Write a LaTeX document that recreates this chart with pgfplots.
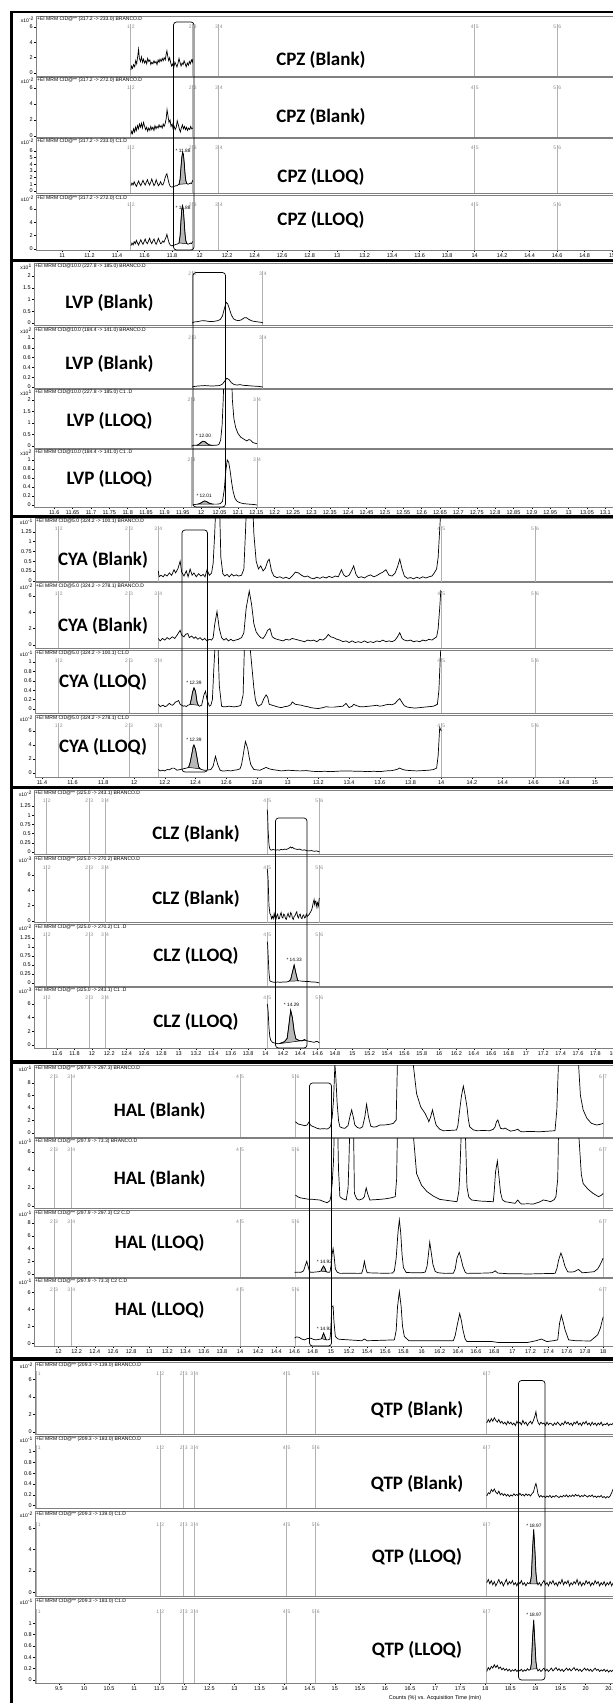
\documentclass[border=0pt]{standalone}
\usepackage{fontspec}
\setmainfont{Liberation Sans}
\newfontfamily\carlito{Carlito}
\usepackage{pgfplots}
\pgfplotsset{compat=1.18}

\pgfplotsset{
  common/.style={scale only axis, anchor=north west, clip mode=individual,
    axis line style={draw=black!50, line width=0.8pt},
    tick align=outside, major tick length=2pt, tick style={black, line width=0.4pt},
    ytick pos=left, xtick pos=bottom, xtick=\empty, scaled ticks=false,
    tick label style={font=\fontsize{5.5}{5.5}\selectfont, inner sep=1pt},
    xticklabel style={anchor=north, text height=4pt, text depth=0.5pt},
    /pgf/number format/assume math mode=true,
    /pgf/number format/fixed, /pgf/number format/precision=2},
  cpz/.style 2 args={common, at={(36pt,-#1pt)}, height=#2pt, width=584pt, xmin=10.81, xmax=15.057},
  lvp/.style 2 args={common, at={(34pt,-#1pt)}, height=#2pt, width=586pt, xmin=11.545, xmax=13.140},
  cya/.style 2 args={common, at={(35pt,-#1pt)}, height=#2pt, width=585pt, xmin=11.355, xmax=15.164},
  clz/.style 2 args={common, at={(34pt,-#1pt)}, height=#2pt, width=586pt, xmin=11.333, xmax=18.084},
  hal/.style 2 args={common, at={(34pt,-#1pt)}, height=#2pt, width=586pt, xmin=11.73, xmax=18.186},
  qtp/.style 2 args={common, at={(35pt,-#1pt)}, height=#2pt, width=585pt, xmin=9.023, xmax=20.686},
  tr/.style={black, line width=0.7pt, mark=none},
  fl/.style={fill=black!28, draw=black, line width=0.5pt, mark=none},
}
\tikzset{
  segl/.style={draw=black!30, line width=0.8pt},
  seglab/.style={font=\fontsize{5}{5}\selectfont, text=black!45, inner sep=0.7pt},
  hdr/.style={anchor=north west, font=\fontsize{5}{5.2}\selectfont, inner sep=1pt},
  scl/.style={anchor=north east, font=\fontsize{5}{5.2}\selectfont, inner sep=1pt, xshift=-1pt},
  pk/.style={font=\fontsize{4.8}{4.8}\selectfont, inner sep=0.5pt},
  big/.style={font=\carlito\bfseries\fontsize{19}{19}\selectfont},
}
\newcommand{\seg}[3]{\draw[segl] ({axis cs:#1,0}|-{rel axis cs:0,0}) -- ({axis cs:#1,0}|-{rel axis cs:0,0.87}) node[seglab,anchor=north east]{#2} node[seglab,anchor=north west]{#3};}
\newcommand{\phead}[2]{\node[hdr] at (rel axis cs:0,1) {#1}; \node[scl] at (rel axis cs:0,1) {x10\textsuperscript{#2}};}
\newcommand{\segsCPZ}{\seg{11.50}{1}{2}\seg{11.95}{2}{3}\seg{12.14}{3}{4}\seg{14.0}{4}{5}\seg{14.6}{5}{6}}
\newcommand{\segsLVPa}{\seg{11.976}{2}{3}\seg{12.168}{3}{4}}
\newcommand{\segsLVPb}{\seg{11.974}{2}{3}\seg{12.152}{3}{4}}
\newcommand{\segsCYA}{\seg{11.51}{1}{2}\seg{11.967}{2}{3}\seg{12.158}{3}{4}\seg{14.0}{4}{5}\seg{14.61}{5}{6}}
\newcommand{\segsCLZ}{\seg{11.48}{1}{2}\seg{11.97}{2}{3}\seg{12.15}{3}{4}\seg{14.02}{4}{5}\seg{14.62}{5}{6}}
\newcommand{\segsHAL}{\seg{11.95}{2}{3}\seg{12.14}{3}{4}\seg{14.0}{4}{5}\seg{14.61}{5}{6}\seg{18.0}{6}{7}}
\newcommand{\segsQTP}{\seg{9.06}{}{1}\seg{11.52}{1}{2}\seg{11.987}{2}{3}\seg{12.2}{3}{4}\seg{14.04}{4}{5}\seg{14.62}{5}{6}\seg{18.03}{6}{7}}

\begin{document}
\begin{tikzpicture}[x=1pt,y=1pt]
\useasboundingbox (0,0) rectangle (613,-1703);
\clip (0,0) rectangle (613,-1703);

% ---------------- CPZ ----------------
\begin{axis}[cpz={16}{60}, ymin=-0.39, ymax=7.43, ytick={0,2,4,6}]
\segsCPZ
\addplot[tr] coordinates {(11.500,0.4)(11.505,0.9)(11.512,0.6)(11.520,1.1)(11.528,0.8)(11.535,1.6)(11.542,1.2)(11.550,2.2)(11.556,3.1)(11.562,1.9)(11.570,1.5)(11.577,2.1)(11.585,1.4)(11.592,1.8)(11.600,1.3)(11.608,1.6)(11.615,1.2)(11.622,1.9)(11.630,1.5)(11.638,1.7)(11.645,1.1)(11.652,1.4)(11.660,1.2)(11.668,1.6)(11.675,1.3)(11.683,1.5)(11.690,1.1)(11.698,1.7)(11.705,1.4)(11.712,1.8)(11.720,1.5)(11.728,1.9)(11.735,1.6)(11.742,2.0)(11.750,1.7)(11.756,2.4)(11.762,2.9)(11.768,2.2)(11.775,1.6)(11.782,2.0)(11.790,1.3)(11.797,0.9)(11.805,1.2)(11.812,0.7)(11.820,1.4)(11.828,1.1)(11.835,0.8)(11.842,1.2)(11.850,1.9)(11.857,1.4)(11.865,0.9)(11.872,1.3)(11.880,1.1)(11.887,1.6)(11.895,1.2)(11.902,0.8)(11.910,1.3)(11.918,1.0)(11.925,1.5)(11.932,1.2)(11.940,1.7)(11.947,1.4)(11.950,1.8)};
\phead{+EI MRM CID@** (317.2 -> 233.0) BRANCO.D}{-2}
\end{axis}
\begin{axis}[cpz={77}{60}, ymin=-0.125, ymax=7.375, ytick={0,2,4,6}]
\segsCPZ
\addplot[tr] coordinates {(11.500,0.2)(11.506,0.6)(11.512,0.3)(11.520,0.9)(11.527,0.5)(11.534,1.1)(11.540,0.7)(11.548,1.3)(11.555,0.9)(11.562,1.5)(11.570,1.1)(11.577,1.6)(11.584,1.0)(11.592,1.7)(11.600,1.2)(11.607,0.8)(11.615,1.1)(11.622,0.6)(11.630,1.0)(11.638,0.7)(11.645,1.2)(11.652,0.8)(11.660,1.1)(11.668,0.7)(11.675,1.3)(11.683,0.9)(11.690,1.2)(11.698,1.0)(11.705,1.4)(11.712,1.1)(11.720,1.3)(11.728,1.0)(11.735,1.5)(11.742,1.2)(11.750,1.6)(11.757,2.2)(11.763,3.3)(11.770,2.5)(11.777,1.7)(11.785,2.0)(11.792,1.2)(11.800,1.5)(11.807,0.9)(11.815,1.2)(11.822,0.8)(11.830,1.1)(11.837,1.9)(11.845,1.4)(11.852,0.9)(11.860,0.5)(11.867,1.0)(11.875,1.4)(11.882,0.9)(11.890,1.2)(11.897,0.8)(11.905,1.1)(11.912,0.7)(11.920,1.0)(11.928,0.8)(11.935,1.2)(11.942,0.9)(11.950,1.0)};
\phead{+EI MRM CID@** (317.2 -> 272.0) BRANCO.D}{-2}
\end{axis}
\begin{axis}[cpz={138}{55}, ymin=-0.3, ymax=7.95, ytick={0,1,2,3,4,5,6}]
\segsCPZ
\addplot[fl] coordinates {(11.850,1.0)(11.858,1.8)(11.864,3.5)(11.870,5.0)(11.876,5.8)(11.882,5.5)(11.888,4.2)(11.894,2.5)(11.900,1.5)(11.908,1.1)} -- cycle;
\addplot[tr] coordinates {(11.500,0.8)(11.508,1.2)(11.516,0.9)(11.524,1.4)(11.532,1.0)(11.540,0.7)(11.548,1.1)(11.556,1.5)(11.564,1.1)(11.572,0.8)(11.580,1.2)(11.588,1.6)(11.596,1.2)(11.604,0.9)(11.612,1.3)(11.620,1.7)(11.628,1.2)(11.636,0.9)(11.644,1.3)(11.652,1.8)(11.660,1.3)(11.668,0.8)(11.676,1.1)(11.684,1.7)(11.692,1.2)(11.700,0.8)(11.708,1.0)(11.716,1.4)(11.724,1.0)(11.732,0.9)(11.740,1.3)(11.748,1.9)(11.756,2.4)(11.762,2.6)(11.770,1.8)(11.778,1.1)(11.786,0.7)(11.794,0.6)(11.802,0.6)(11.810,0.7)(11.818,0.7)(11.826,0.8)(11.834,0.8)(11.842,0.9)(11.850,1.0)(11.858,1.8)(11.864,3.5)(11.870,5.0)(11.876,5.8)(11.882,5.5)(11.888,4.2)(11.894,2.5)(11.900,1.5)(11.908,1.1)(11.916,1.0)(11.924,1.1)(11.932,1.2)(11.940,1.1)(11.946,1.4)(11.950,1.6)};
\node[pk] at (axis cs:11.88,6.0) {* 11.88};
\phead{+EI MRM CID@** (317.2 -> 233.0) C1.D}{-2}
\end{axis}
\begin{axis}[cpz={195}{55}, ymin=-0.15, ymax=8.1, ytick={0,2,4,6}, xtick={11,11.2,...,15.01}]
\segsCPZ
\addplot[fl] coordinates {(11.850,0.9)(11.858,2.0)(11.864,4.2)(11.870,5.9)(11.876,6.5)(11.882,5.8)(11.888,4.0)(11.894,2.2)(11.900,1.2)(11.908,0.8)} -- cycle;
\addplot[tr] coordinates {(11.500,0.5)(11.508,0.9)(11.516,0.6)(11.524,1.1)(11.532,0.8)(11.540,1.3)(11.548,0.9)(11.556,0.6)(11.564,1.0)(11.572,1.4)(11.580,1.0)(11.588,0.7)(11.596,1.1)(11.604,1.5)(11.612,1.0)(11.620,0.8)(11.628,1.2)(11.636,1.6)(11.644,1.1)(11.652,0.8)(11.660,1.2)(11.668,1.5)(11.676,1.0)(11.684,0.7)(11.692,1.1)(11.700,1.6)(11.708,1.2)(11.716,0.8)(11.724,0.9)(11.732,1.2)(11.740,1.0)(11.748,1.4)(11.756,1.8)(11.762,2.2)(11.770,1.5)(11.778,0.9)(11.786,0.6)(11.794,0.5)(11.802,0.5)(11.810,0.6)(11.818,0.6)(11.826,0.7)(11.834,0.7)(11.842,0.8)(11.850,0.9)(11.858,2.0)(11.864,4.2)(11.870,5.9)(11.876,6.5)(11.882,5.8)(11.888,4.0)(11.894,2.2)(11.900,1.2)(11.908,0.8)(11.916,0.7)(11.924,0.8)(11.932,0.9)(11.940,0.8)(11.946,1.0)(11.950,1.1)};
\node[pk] at (axis cs:11.88,6.2) {* 11.88};
\phead{+EI MRM CID@** (317.2 -> 272.0) C1.D}{-2}
\end{axis}

% ---------------- LVP ----------------
\begin{axis}[lvp={263}{62}, ymin=-0.085, ymax=2.553, ytick={0,0.5,1,1.5,2}]
\segsLVPa
\addplot[tr] coordinates {(11.976,0.0)(11.980,0.04)(11.990,0.06)(12.000,0.09)(12.008,0.1)(12.016,0.08)(12.025,0.06)(12.035,0.07)(12.045,0.1)(12.052,0.15)(12.058,0.3)(12.063,0.6)(12.068,0.88)(12.072,0.82)(12.077,0.6)(12.082,0.35)(12.088,0.18)(12.095,0.12)(12.102,0.1)(12.110,0.14)(12.117,0.22)(12.123,0.23)(12.130,0.15)(12.138,0.09)(12.148,0.06)(12.158,0.04)(12.166,0.02)(12.168,0.0)};
\phead{+EI MRM CID@10.0 (227.8 -> 185.0) BRANCO.D}{1}
\end{axis}
\begin{axis}[lvp={327}{61.5}, ymin=-0.03, ymax=1.224, ytick={0,0.2,0.4,0.6,0.8,1}]
\segsLVPa
\addplot[tr] coordinates {(11.976,0.0)(11.980,0.01)(11.990,0.02)(12.000,0.025)(12.010,0.03)(12.020,0.025)(12.030,0.02)(12.040,0.025)(12.050,0.03)(12.058,0.06)(12.064,0.12)(12.070,0.18)(12.076,0.15)(12.082,0.09)(12.090,0.05)(12.098,0.04)(12.106,0.05)(12.114,0.035)(12.125,0.03)(12.140,0.02)(12.155,0.015)(12.168,0.0)};
\phead{+EI MRM CID@10.0 (184.4 -> 141.0) BRANCO.D}{2}
\end{axis}
\begin{axis}[lvp={389}{59}, ymin=-0.087, ymax=2.478, ytick={0,0.5,1,1.5,2}]
\segsLVPb
\addplot[fl] coordinates {(11.988,0.03)(11.994,0.08)(12.000,0.16)(12.005,0.21)(12.010,0.19)(12.016,0.11)(12.022,0.05)(12.028,0.03)} -- cycle;
\addplot[tr] coordinates {(11.974,0.0)(11.980,0.03)(11.988,0.03)(11.994,0.08)(12.000,0.16)(12.005,0.21)(12.010,0.19)(12.016,0.11)(12.022,0.05)(12.030,0.03)(12.040,0.03)(12.048,0.06)(12.053,0.25)(12.057,0.9)(12.060,2.0)(12.062,3.0)(12.083,3.0)(12.085,2.0)(12.089,1.2)(12.094,0.8)(12.100,0.55)(12.108,0.38)(12.116,0.3)(12.124,0.22)(12.130,0.28)(12.135,0.25)(12.141,0.15)(12.147,0.12)(12.152,0.1)};
\node[pk] at (axis cs:12.006,0.45) {* 12.00};
\phead{+EI MRM CID@10.0 (227.8 -> 185.0) C1 .D}{1}
\end{axis}
\begin{axis}[lvp={449}{58}, ymin=-0.044, ymax=1.244, ytick={0,0.2,0.4,0.6,0.8,1}, xtick={11.6,11.65,...,13.12}]
\segsLVPb
\addplot[fl] coordinates {(11.992,0.02)(11.998,0.04)(12.004,0.07)(12.009,0.09)(12.014,0.08)(12.020,0.05)(12.026,0.03)(12.030,0.02)} -- cycle;
\addplot[tr] coordinates {(11.976,0.0)(11.982,0.01)(11.990,0.02)(11.998,0.04)(12.004,0.07)(12.009,0.09)(12.014,0.08)(12.020,0.05)(12.026,0.03)(12.034,0.02)(12.044,0.02)(12.052,0.03)(12.058,0.08)(12.063,0.35)(12.067,0.75)(12.071,1.0)(12.075,0.95)(12.079,0.75)(12.083,0.5)(12.087,0.3)(12.092,0.15)(12.098,0.08)(12.106,0.05)(12.116,0.03)(12.130,0.02)(12.145,0.01)(12.152,0.0)};
\node[pk] at (axis cs:12.008,0.2) {* 12.01};
\phead{+EI MRM CID@10.0 (184.4 -> 141.0) C1 .D}{2}
\end{axis}

% ---------------- CYA ----------------
\begin{axis}[cya={518}{63.5}, ymin=-0.02, ymax=1.6, ytick={0,0.25,0.5,0.75,1,1.25}]
\segsCYA
\addplot[tr] coordinates {(12.158,0.25)(12.163,0.1)(12.175,0.14)(12.19,0.1)(12.20,0.16)(12.215,0.12)(12.23,0.2)(12.245,0.14)(12.26,0.28)(12.27,0.2)(12.285,0.3)(12.30,0.5)(12.31,0.22)(12.325,0.12)(12.34,0.25)(12.352,0.1)(12.365,0.3)(12.378,0.14)(12.39,0.2)(12.405,0.1)(12.42,0.18)(12.435,0.12)(12.45,0.16)(12.462,0.1)(12.475,0.28)(12.49,0.14)(12.505,0.2)(12.515,0.45)(12.525,1.2)(12.535,2.2)(12.555,2.2)(12.565,0.6)(12.578,0.18)(12.59,0.12)(12.605,0.16)(12.62,0.1)(12.635,0.17)(12.65,0.12)(12.665,0.15)(12.68,0.12)(12.70,0.14)(12.715,0.3)(12.725,1.2)(12.735,2.2)(12.77,2.2)(12.78,1.2)(12.795,0.5)(12.81,0.3)(12.825,0.38)(12.84,0.25)(12.855,0.32)(12.87,0.5)(12.88,0.55)(12.895,0.25)(12.91,0.12)(12.93,0.08)(12.95,0.1)(12.97,0.06)(12.99,0.09)(13.01,0.05)(13.03,0.12)(13.05,0.22)(13.07,0.2)(13.09,0.14)(13.11,0.1)(13.13,0.12)(13.15,0.07)(13.17,0.05)(13.19,0.09)(13.21,0.06)(13.23,0.1)(13.25,0.07)(13.27,0.11)(13.29,0.08)(13.31,0.12)(13.33,0.1)(13.35,0.28)(13.365,0.15)(13.38,0.1)(13.40,0.14)(13.415,0.25)(13.43,0.38)(13.445,0.16)(13.46,0.08)(13.48,0.1)(13.50,0.07)(13.52,0.12)(13.54,0.15)(13.56,0.1)(13.58,0.13)(13.60,0.18)(13.62,0.22)(13.64,0.28)(13.66,0.14)(13.68,0.12)(13.70,0.2)(13.715,0.35)(13.73,0.55)(13.745,0.3)(13.76,0.12)(13.78,0.06)(13.80,0.08)(13.82,0.05)(13.84,0.09)(13.86,0.06)(13.88,0.1)(13.90,0.07)(13.92,0.1)(13.94,0.12)(13.955,0.2)(13.97,0.3)(13.98,0.6)(13.99,1.3)(14.0,2.0)};
\phead{+EI MRM CID@5.0 (324.2 -> 100.1) BRANCO.D}{-1}
\end{axis}
\begin{axis}[cya={582.5}{65.5}, ymin=-0.37, ymax=7.65, ytick={0,2,4,6}]
\segsCYA
\addplot[tr] coordinates {(12.158,0.8)(12.17,0.5)(12.185,0.8)(12.2,0.6)(12.215,0.9)(12.23,0.7)(12.25,1.0)(12.265,0.8)(12.28,1.2)(12.29,1.5)(12.30,1.8)(12.31,1.2)(12.325,1.0)(12.335,1.3)(12.35,1.4)(12.36,0.9)(12.375,1.1)(12.39,0.8)(12.40,1.0)(12.415,0.7)(12.43,0.9)(12.445,0.6)(12.46,0.8)(12.475,0.5)(12.49,0.7)(12.505,0.6)(12.515,0.9)(12.525,2.5)(12.54,4.1)(12.555,2.0)(12.57,0.9)(12.585,0.6)(12.6,0.8)(12.615,0.5)(12.63,0.7)(12.645,0.5)(12.66,0.6)(12.68,0.7)(12.70,0.9)(12.715,1.5)(12.73,4.5)(12.75,6.6)(12.765,5.0)(12.78,2.6)(12.795,1.6)(12.81,1.2)(12.825,0.9)(12.84,0.8)(12.855,1.2)(12.87,1.8)(12.885,2.0)(12.90,1.0)(12.915,0.8)(12.93,0.7)(12.95,0.6)(12.97,0.5)(12.99,0.7)(13.01,0.6)(13.03,0.8)(13.05,0.7)(13.07,0.6)(13.09,0.5)(13.11,0.4)(13.13,0.6)(13.15,0.5)(13.17,0.6)(13.19,0.4)(13.21,0.7)(13.23,0.6)(13.25,0.9)(13.265,1.3)(13.28,1.0)(13.30,0.9)(13.32,0.7)(13.34,0.6)(13.36,0.4)(13.38,0.5)(13.40,0.3)(13.42,0.5)(13.44,0.3)(13.46,0.4)(13.48,0.3)(13.50,0.5)(13.52,0.3)(13.54,0.4)(13.56,0.3)(13.58,0.5)(13.60,0.4)(13.62,0.6)(13.64,0.4)(13.66,0.5)(13.68,0.4)(13.70,0.6)(13.715,1.0)(13.73,1.5)(13.745,0.8)(13.76,0.6)(13.78,0.5)(13.80,0.6)(13.82,0.4)(13.84,0.5)(13.86,0.4)(13.88,0.6)(13.90,0.5)(13.92,0.7)(13.94,0.6)(13.955,0.8)(13.97,1.0)(13.98,2.0)(13.99,4.5)(13.997,6.6)(14.0,6.5)};
\phead{+EI MRM CID@5.0 (324.2 -> 278.1) BRANCO.D}{-2}
\end{axis}
\begin{axis}[cya={650}{63}, ymin=-0.085, ymax=1.255, ytick={0,0.2,0.4,0.6,0.8,1}]
\segsCYA
\addplot[fl] coordinates {(12.365,0.1)(12.375,0.25)(12.38,0.35)(12.39,0.45)(12.40,0.38)(12.41,0.15)(12.418,0.08)} -- cycle;
\addplot[tr] coordinates {(12.158,0.1)(12.17,0.05)(12.18,0.07)(12.19,0.08)(12.20,0.05)(12.21,0.06)(12.22,0.09)(12.23,0.12)(12.24,0.09)(12.25,0.08)(12.26,0.11)(12.27,0.15)(12.28,0.16)(12.29,0.18)(12.30,0.1)(12.31,0.08)(12.32,0.06)(12.33,0.07)(12.34,0.05)(12.35,0.08)(12.36,0.09)(12.365,0.1)(12.375,0.25)(12.38,0.35)(12.39,0.45)(12.40,0.38)(12.41,0.15)(12.418,0.08)(12.425,0.06)(12.44,0.08)(12.455,0.3)(12.465,0.38)(12.475,0.2)(12.49,0.06)(12.50,0.08)(12.51,0.2)(12.52,0.9)(12.53,1.5)(12.545,1.5)(12.555,0.5)(12.57,0.06)(12.58,0.05)(12.60,0.05)(12.62,0.06)(12.64,0.05)(12.66,0.05)(12.68,0.06)(12.695,0.08)(12.71,0.3)(12.72,1.5)(12.75,1.5)(12.77,0.8)(12.78,0.45)(12.79,0.2)(12.80,0.1)(12.81,0.06)(12.83,0.1)(12.845,0.22)(12.86,0.3)(12.87,0.25)(12.88,0.1)(12.90,0.08)(12.92,0.06)(12.94,0.04)(12.96,0.03)(12.98,0.05)(13.00,0.06)(13.02,0.09)(13.03,0.15)(13.05,0.1)(13.07,0.09)(13.09,0.08)(13.11,0.06)(13.13,0.05)(13.15,0.03)(13.17,0.02)(13.20,0.01)(13.23,0.03)(13.25,0.05)(13.27,0.04)(13.30,0.04)(13.33,0.05)(13.36,0.06)(13.38,0.12)(13.40,0.03)(13.42,0.06)(13.43,0.1)(13.45,0.07)(13.47,0.05)(13.50,0.05)(13.53,0.06)(13.56,0.07)(13.58,0.08)(13.60,0.06)(13.62,0.07)(13.64,0.09)(13.66,0.1)(13.68,0.09)(13.70,0.12)(13.715,0.18)(13.73,0.22)(13.745,0.14)(13.76,0.07)(13.78,0.04)(13.80,0.03)(13.83,0.02)(13.86,0.03)(13.89,0.04)(13.92,0.05)(13.95,0.06)(13.975,0.1)(13.985,0.4)(13.99,0.8)(14.0,1.5)};
\node[pk] at (axis cs:12.39,0.55) {* 12.39};
\phead{+EI MRM CID@5.0 (324.2 -> 100.1) C1.D}{-1}
\end{axis}
\begin{axis}[cya={715}{62}, ymin=-0.57, ymax=8.29, ytick={0,2,4,6}, xtick={11.4,11.6,...,15.01}]
\segsCYA
\addplot[fl] coordinates {(12.355,0.8)(12.365,1.5)(12.375,2.6)(12.385,3.8)(12.39,4.0)(12.40,3.4)(12.41,2.2)(12.42,0.9)(12.43,0.6)} -- cycle;
\addplot[tr] coordinates {(12.158,0.5)(12.17,0.3)(12.18,0.35)(12.19,0.4)(12.20,0.3)(12.21,0.45)(12.22,0.5)(12.23,0.45)(12.24,0.6)(12.25,0.7)(12.26,0.7)(12.27,0.55)(12.28,0.4)(12.29,0.45)(12.30,0.5)(12.31,0.55)(12.32,0.6)(12.33,0.65)(12.34,0.7)(12.355,0.8)(12.365,1.5)(12.375,2.6)(12.385,3.8)(12.39,4.0)(12.40,3.4)(12.41,2.2)(12.42,0.9)(12.43,0.6)(12.44,0.5)(12.455,0.4)(12.47,0.4)(12.485,0.45)(12.50,0.5)(12.515,1.0)(12.53,2.4)(12.545,1.2)(12.56,0.4)(12.575,0.3)(12.59,0.3)(12.61,0.35)(12.63,0.3)(12.65,0.4)(12.67,0.45)(12.69,0.6)(12.70,1.2)(12.71,2.5)(12.725,4.5)(12.74,3.5)(12.75,2.2)(12.76,1.2)(12.78,0.5)(12.80,0.45)(12.82,0.4)(12.84,0.6)(12.86,0.8)(12.88,0.6)(12.90,0.5)(12.93,0.4)(12.96,0.3)(13.00,0.4)(13.04,0.35)(13.08,0.3)(13.12,0.35)(13.16,0.25)(13.20,0.2)(13.24,0.25)(13.28,0.2)(13.32,0.25)(13.36,0.3)(13.40,0.3)(13.44,0.25)(13.48,0.25)(13.52,0.2)(13.56,0.25)(13.60,0.2)(13.64,0.3)(13.68,0.35)(13.71,0.5)(13.73,0.7)(13.75,0.5)(13.77,0.4)(13.80,0.35)(13.84,0.3)(13.88,0.35)(13.92,0.4)(13.95,0.5)(13.97,0.7)(13.98,2.5)(13.99,6.5)(14.0,6.0)};
\node[pk] at (axis cs:12.39,4.7) {* 12.39};
\phead{+EI MRM CID@5.0 (324.2 -> 278.1) C1.D}{-2}
\end{axis}

% ---------------- CLZ ----------------
\begin{axis}[clz={790}{64}, ymin=-0.054, ymax=1.685, ytick={0,0.25,0.5,0.75,1,1.25}]
\segsCLZ
\addplot[tr] coordinates {(14.02,1.15)(14.025,1.0)(14.03,0.6)(14.04,0.2)(14.05,0.08)(14.06,0.06)(14.07,0.05)(14.085,0.07)(14.1,0.06)(14.12,0.05)(14.14,0.06)(14.16,0.05)(14.18,0.07)(14.2,0.06)(14.22,0.08)(14.24,0.07)(14.26,0.09)(14.28,0.12)(14.29,0.14)(14.30,0.11)(14.31,0.13)(14.33,0.09)(14.35,0.08)(14.37,0.07)(14.39,0.08)(14.41,0.06)(14.43,0.05)(14.45,0.06)(14.47,0.04)(14.5,0.03)(14.53,0.04)(14.56,0.02)(14.59,0.03)(14.61,0.01)(14.62,0.02)};
\phead{+EI MRM CID@** (325.0 -> 243.1) BRANCO.D}{-2}
\end{axis}
\begin{axis}[clz={856}{66.5}, ymin=-0.2, ymax=8.48, ytick={0,2,4,6}]
\segsCLZ
\addplot[tr] coordinates {(14.02,6.8)(14.025,6.2)(14.03,5.5)(14.04,2.0)(14.05,1.0)(14.06,0.8)(14.07,0.3)(14.08,0.6)(14.09,0.3)(14.1,1.0)(14.11,0.4)(14.12,0.2)(14.13,0.7)(14.14,0.9)(14.15,0.3)(14.16,0.3)(14.17,0.8)(14.18,1.1)(14.19,0.5)(14.2,0.4)(14.21,0.9)(14.22,0.8)(14.23,0.3)(14.24,0.2)(14.25,0.7)(14.26,1.0)(14.27,0.6)(14.28,0.5)(14.29,1.1)(14.3,0.9)(14.31,0.4)(14.32,0.2)(14.33,0.6)(14.34,0.7)(14.35,1.0)(14.36,1.2)(14.37,0.6)(14.38,0.4)(14.39,0.8)(14.4,0.9)(14.41,0.4)(14.42,0.3)(14.43,0.7)(14.44,0.8)(14.45,0.4)(14.46,0.5)(14.47,0.9)(14.48,0.6)(14.49,0.7)(14.5,0.8)(14.51,1.0)(14.52,1.2)(14.53,1.4)(14.54,1.8)(14.55,2.4)(14.56,2.8)(14.565,2.2)(14.57,2.5)(14.58,2.6)(14.585,1.9)(14.59,2.2)(14.6,2.4)(14.605,1.8)(14.61,2.0)(14.615,2.6)(14.62,3.0)};
\phead{+EI MRM CID@** (325.0 -> 270.2) BRANCO.D}{-3}
\end{axis}
\begin{axis}[clz={924}{62}, ymin=-0.083, ymax=1.64, ytick={0,0.25,0.5,0.75,1,1.25}]
\segsCLZ
\addplot[fl] coordinates {(14.27,0.05)(14.29,0.1)(14.31,0.3)(14.33,0.5)(14.35,0.28)(14.37,0.08)(14.38,0.06)} -- cycle;
\addplot[tr] coordinates {(14.02,1.15)(14.025,1.05)(14.03,0.8)(14.04,0.3)(14.05,0.06)(14.065,0.04)(14.08,0.03)(14.1,0.02)(14.12,0.02)(14.14,0.03)(14.16,0.02)(14.18,0.02)(14.2,0.03)(14.22,0.03)(14.24,0.03)(14.26,0.04)(14.27,0.05)(14.29,0.1)(14.31,0.3)(14.33,0.5)(14.35,0.28)(14.37,0.08)(14.38,0.06)(14.4,0.06)(14.42,0.05)(14.44,0.05)(14.47,0.04)(14.5,0.04)(14.53,0.03)(14.56,0.03)(14.59,0.02)(14.61,0.01)(14.62,0.0)};
\node[pk] at (axis cs:14.33,0.65) {* 14.33};
\phead{+EI MRM CID@** (325.0 -> 270.2) C1 .D}{-2}
\end{axis}
\begin{axis}[clz={987}{61}, ymin=-0.44, ymax=8.49, ytick={0,2,4,6}, xtick={11.6,11.8,...,18.01}]
\segsCLZ
\addplot[fl] coordinates {(14.16,0.2)(14.18,0.3)(14.2,0.4)(14.22,0.5)(14.25,1.0)(14.27,3.0)(14.29,5.1)(14.31,4.0)(14.33,2.0)(14.35,0.9)(14.38,0.7)(14.42,0.6)(14.45,0.8)(14.46,0.7)} -- cycle;
\addplot[tr] coordinates {(14.02,6.0)(14.025,5.6)(14.03,5.0)(14.04,2.5)(14.05,1.2)(14.06,0.7)(14.08,0.4)(14.1,0.3)(14.12,0.25)(14.14,0.2)(14.16,0.2)(14.18,0.3)(14.2,0.4)(14.22,0.5)(14.25,1.0)(14.27,3.0)(14.29,5.1)(14.31,4.0)(14.33,2.0)(14.35,0.9)(14.38,0.7)(14.42,0.6)(14.45,0.8)(14.46,0.7)(14.48,0.6)(14.5,0.55)(14.52,0.5)(14.54,0.45)(14.56,0.4)(14.58,0.5)(14.6,0.5)(14.62,0.3)};
\node[pk] at (axis cs:14.30,5.9) {* 14.29};
\phead{+EI MRM CID@** (325.0 -> 243.1) C1 .D}{-3}
\end{axis}

% ---------------- HAL ----------------
\begin{axis}[hal={1065}{72}, ymin=-0.64, ymax=10.88, ytick={0,2,4,6,8}]
\segsHAL
\addplot[tr] coordinates {(14.61,1.8)(14.64,1.44)(14.68,1.3)(14.715,1.17)(14.74,1.3)(14.759,1.76)(14.775,1.3)(14.79,1.12)(14.82,0.95)(14.85,0.75)(14.88,0.64)(14.92,0.7)(14.96,0.64)(14.99,0.9)(15.00,1.28)(15.015,2.5)(15.03,5.3)(15.045,11)(15.055,9)(15.07,4.7)(15.085,2.0)(15.10,1.0)(15.13,0.8)(15.155,0.75)(15.19,1.2)(15.21,2.6)(15.23,3.7)(15.25,2.4)(15.265,1.28)(15.29,0.9)(15.32,0.75)(15.35,1.0)(15.375,2.6)(15.394,4.6)(15.415,2.6)(15.44,1.1)(15.47,0.95)(15.5,1.0)(15.54,1.28)(15.6,1.3)(15.65,1.4)(15.69,1.55)(15.72,2.1)(15.735,12)(15.90,12)(15.945,6.3)(15.99,4.2)(16.04,3.1)(16.07,2.2)(16.08,1.8)(16.10,2.6)(16.12,3.7)(16.14,2.4)(16.16,1.28)(16.2,0.6)(16.24,0.37)(16.3,0.4)(16.385,0.48)(16.40,1.2)(16.42,3.7)(16.44,6.0)(16.46,7.5)(16.48,6.0)(16.50,4.2)(16.515,2.2)(16.53,1.0)(16.57,0.5)(16.61,0.37)(16.68,0.4)(16.75,0.37)(16.79,0.6)(16.81,1.0)(16.825,1.8)(16.84,2.1)(16.855,1.4)(16.87,0.75)(16.9,0.65)(16.92,0.8)(16.94,0.6)(16.98,0.3)(17.02,0.4)(17.06,0.6)(17.08,0.35)(17.1,0.2)(17.2,0.25)(17.3,0.2)(17.4,0.3)(17.47,0.37)(17.49,3.7)(17.51,12)(17.725,12)(17.75,6)(17.78,3.7)(17.82,2.4)(17.87,1.55)(17.93,1.28)(17.97,1.4)(18.0,1.55)};
\phead{+EI MRM CID@** (297.9 -> 297.3) BRANCO.D}{-1}
\end{axis}
\begin{axis}[hal={1138}{70}, ymin=-0.22, ymax=7.56, ytick={0,2,4,6}]
\segsHAL
\addplot[tr] coordinates {(14.61,1.22)(14.64,1.0)(14.67,0.9)(14.70,0.85)(14.73,0.8)(14.76,0.74)(14.8,0.75)(14.84,0.7)(14.88,0.67)(14.92,0.5)(14.96,0.37)(14.99,0.6)(15.00,1.04)(15.015,2.5)(15.03,5.1)(15.04,9)(15.075,9)(15.085,4)(15.10,1.04)(15.13,0.8)(15.17,0.67)(15.19,2.0)(15.2,5.1)(15.21,9)(15.25,9)(15.26,1.4)(15.285,0.8)(15.31,0.67)(15.35,0.8)(15.37,1.04)(15.38,1.6)(15.39,2.0)(15.405,1.4)(15.43,0.67)(15.48,0.7)(15.54,0.74)(15.6,0.8)(15.66,0.9)(15.71,1.04)(15.725,3)(15.735,9)(15.90,9)(15.945,3.6)(16.0,2.3)(16.06,1.6)(16.13,1.1)(16.2,0.74)(16.3,0.6)(16.39,0.48)(16.41,1.6)(16.42,3.3)(16.44,9)(16.48,9)(16.5,2.1)(16.52,1.0)(16.55,0.67)(16.65,0.55)(16.79,0.48)(16.80,1.6)(16.815,3.8)(16.835,5.0)(16.85,3.5)(16.87,1.5)(16.89,0.7)(16.92,0.48)(16.97,0.4)(17.03,0.3)(17.06,0.67)(17.08,0.4)(17.1,0.22)(17.17,0.25)(17.23,0.22)(17.3,0.45)(17.34,0.67)(17.38,0.6)(17.42,0.48)(17.46,0.7)(17.48,1.04)(17.50,3)(17.51,9)(17.725,9)(17.76,3.5)(17.78,2.5)(17.83,1.9)(17.89,1.4)(17.95,1.04)(17.98,1.2)(18.0,1.4)};
\phead{+EI MRM CID@** (297.9 -> 73.3) BRANCO.D}{-1}
\end{axis}
\begin{axis}[hal={1210}{67}, ymin=-0.47, ymax=10.04, ytick={0,2,4,6,8}]
\segsHAL
\addplot[fl] coordinates {(14.895,0.45)(14.905,0.9)(14.92,1.25)(14.935,0.9)(14.95,0.35)} -- cycle;
\addplot[tr] coordinates {(14.60,0.26)(14.64,0.3)(14.67,0.26)(14.70,0.5)(14.72,1.4)(14.735,2.0)(14.75,1.2)(14.765,0.4)(14.78,0.26)(14.82,0.3)(14.865,0.36)(14.89,0.45)(14.905,0.9)(14.92,1.25)(14.935,0.9)(14.95,0.35)(14.97,0.26)(14.99,0.3)(15.005,1.5)(15.015,3.2)(15.025,4.0)(15.035,3.0)(15.05,0.8)(15.07,0.3)(15.10,0.1)(15.2,0.12)(15.3,0.1)(15.34,0.12)(15.355,0.8)(15.37,2.0)(15.385,0.9)(15.40,0.2)(15.5,0.15)(15.6,0.12)(15.68,0.15)(15.70,0.5)(15.72,2.5)(15.74,6.5)(15.755,8.5)(15.77,6.5)(15.785,3.0)(15.80,1.0)(15.83,0.25)(15.9,0.2)(16.0,0.2)(16.04,0.3)(16.06,1.2)(16.075,3.0)(16.09,5.0)(16.105,3.5)(16.125,1.5)(16.15,0.4)(16.18,0.2)(16.26,0.1)(16.35,0.12)(16.37,0.8)(16.39,2.5)(16.415,3.4)(16.435,2.4)(16.455,1.2)(16.48,0.3)(16.5,0.1)(16.6,0.12)(16.7,0.15)(16.78,0.2)(16.81,0.5)(16.84,0.15)(16.95,0.05)(17.05,0.05)(17.17,0.0)(17.3,0.05)(17.47,0.1)(17.49,0.8)(17.51,2.2)(17.535,3.3)(17.555,2.5)(17.58,1.2)(17.61,0.35)(17.64,0.3)(17.685,0.36)(17.71,0.6)(17.73,0.7)(17.75,0.45)(17.77,0.2)(17.82,0.25)(17.9,0.36)(17.94,0.8)(17.965,1.4)(17.985,2.0)(18.0,2.5)};
\node[pk] at (axis cs:14.93,1.9) {* 14.92};
\phead{+EI MRM CID@** (297.9 -> 297.3) C2 C.D}{-1}
\end{axis}
\begin{axis}[hal={1278}{68}, ymin=-0.32, ymax=7.68, ytick={0,2,4,6}, xtick={12,12.2,...,18.01}]
\segsHAL
\addplot[fl] coordinates {(14.9,0.55)(14.91,0.9)(14.92,1.2)(14.935,0.8)(14.95,0.4)} -- cycle;
\addplot[tr] coordinates {(14.60,0.6)(14.62,0.75)(14.65,0.7)(14.68,0.5)(14.71,0.4)(14.74,0.55)(14.78,0.6)(14.81,0.45)(14.84,0.4)(14.87,0.47)(14.895,0.5)(14.91,0.9)(14.92,1.2)(14.935,0.8)(14.95,0.4)(14.97,0.4)(14.99,0.5)(15.0,1.5)(15.01,4.3)(15.025,4.4)(15.035,2.5)(15.05,0.8)(15.08,0.5)(15.1,0.47)(15.2,0.4)(15.34,0.3)(15.37,0.5)(15.4,0.3)(15.55,0.35)(15.70,0.4)(15.72,1.5)(15.735,4.3)(15.755,6.1)(15.775,4.3)(15.79,2.0)(15.81,0.8)(15.86,0.3)(16.0,0.3)(16.2,0.3)(16.35,0.3)(16.37,0.9)(16.39,2.0)(16.42,3.5)(16.44,2.6)(16.455,1.6)(16.48,0.5)(16.5,0.2)(16.6,0.2)(16.78,0.2)(16.84,0.1)(17.0,0.1)(17.17,0.1)(17.26,0.3)(17.32,0.5)(17.38,0.2)(17.45,0.3)(17.5,0.4)(17.52,2.35)(17.54,3.3)(17.56,2.5)(17.58,1.6)(17.62,0.4)(17.7,0.3)(17.86,0.27)(17.94,1.0)(17.97,1.8)(18.0,3.1)};
\node[pk] at (axis cs:14.93,1.75) {* 14.92};
\phead{+EI MRM CID@** (297.9 -> 73.3) C2 C.D}{-1}
\end{axis}

% ---------------- QTP ----------------
\begin{axis}[qtp={1362}{72}, ymin=-0.26, ymax=7.98, ytick={0,2,4,6}]
\segsQTP
\addplot[tr] coordinates {(18.03,1.0)(18.06,1.4)(18.09,1.1)(18.12,1.5)(18.15,1.2)(18.18,1.6)(18.21,1.3)(18.24,1.1)(18.27,1.4)(18.30,1.0)(18.33,1.2)(18.36,0.9)(18.39,1.1)(18.42,0.8)(18.45,1.2)(18.48,0.9)(18.51,1.1)(18.54,0.8)(18.57,1.0)(18.60,0.7)(18.63,1.2)(18.66,0.9)(18.69,1.1)(18.72,0.8)(18.75,1.3)(18.78,0.9)(18.81,1.1)(18.84,0.7)(18.87,1.0)(18.90,1.2)(18.93,0.9)(18.96,1.3)(18.99,1.8)(19.01,2.3)(19.03,1.5)(19.05,1.1)(19.08,0.8)(19.11,1.1)(19.14,0.9)(19.17,1.0)(19.20,0.7)(19.23,1.1)(19.26,0.8)(19.29,1.0)(19.32,0.9)(19.35,0.7)(19.38,1.0)(19.41,0.8)(19.44,1.1)(19.47,0.9)(19.50,0.7)(19.53,1.0)(19.56,0.8)(19.59,1.2)(19.62,0.9)(19.65,1.1)(19.68,0.8)(19.71,1.0)(19.74,0.7)(19.77,1.1)(19.80,0.9)(19.83,1.2)(19.86,0.8)(19.89,1.0)(19.92,0.7)(19.95,1.1)(19.98,0.9)(20.01,1.2)(20.04,0.8)(20.07,1.0)(20.10,0.7)(20.13,1.1)(20.16,0.8)(20.19,1.0)(20.22,0.7)(20.25,1.0)(20.28,0.8)(20.31,1.1)(20.34,0.7)(20.37,0.9)(20.40,0.8)(20.43,1.0)(20.46,0.7)(20.49,0.9)(20.52,0.8)(20.55,1.0)(20.58,0.8)(20.61,0.9)(20.64,0.8)(20.67,1.0)(20.70,0.9)};
\phead{+EI MRM CID@** (209.3 -> 139.0) BRANCO.D}{-2}
\end{axis}
\begin{axis}[qtp={1436}{72}, ymin=-0.043, ymax=1.29, ytick={0,0.2,0.4,0.6,0.8,1}]
\segsQTP
\addplot[tr] coordinates {(18.03,0.18)(18.06,0.24)(18.09,0.22)(18.12,0.30)(18.15,0.26)(18.18,0.31)(18.21,0.25)(18.24,0.22)(18.27,0.27)(18.30,0.20)(18.33,0.23)(18.36,0.19)(18.39,0.22)(18.42,0.18)(18.45,0.21)(18.48,0.17)(18.51,0.20)(18.54,0.18)(18.57,0.22)(18.60,0.19)(18.63,0.21)(18.66,0.18)(18.69,0.23)(18.72,0.19)(18.75,0.21)(18.78,0.18)(18.81,0.22)(18.84,0.19)(18.87,0.21)(18.90,0.18)(18.93,0.22)(18.96,0.25)(18.99,0.36)(19.01,0.41)(19.03,0.33)(19.05,0.22)(19.08,0.16)(19.11,0.19)(19.14,0.16)(19.17,0.18)(19.20,0.15)(19.23,0.18)(19.26,0.16)(19.29,0.19)(19.32,0.15)(19.35,0.18)(19.38,0.16)(19.41,0.19)(19.44,0.17)(19.47,0.15)(19.50,0.18)(19.53,0.16)(19.56,0.19)(19.59,0.17)(19.62,0.20)(19.65,0.16)(19.68,0.19)(19.71,0.17)(19.74,0.20)(19.77,0.17)(19.80,0.21)(19.83,0.18)(19.86,0.20)(19.89,0.16)(19.92,0.19)(19.95,0.17)(19.98,0.20)(20.01,0.18)(20.04,0.16)(20.07,0.19)(20.10,0.17)(20.13,0.20)(20.16,0.16)(20.19,0.18)(20.22,0.15)(20.25,0.18)(20.28,0.16)(20.31,0.19)(20.34,0.15)(20.37,0.17)(20.40,0.14)(20.43,0.17)(20.46,0.15)(20.49,0.18)(20.52,0.24)(20.55,0.31)(20.58,0.36)(20.61,0.38)(20.64,0.40)(20.67,0.42)(20.70,0.43)};
\phead{+EI MRM CID@** (209.3 -> 183.0) BRANCO.D}{-1}
\end{axis}
\begin{axis}[qtp={1511}{85}, ymin=-0.35, ymax=7.62, ytick={0,2,4,6}]
\segsQTP
\addplot[fl] coordinates {(18.90,0.8)(18.92,1.6)(18.94,3.8)(18.965,5.9)(18.99,3.9)(19.01,1.8)(19.03,0.8)} -- cycle;
\addplot[tr] coordinates {(18.03,0.9)(18.06,1.2)(18.09,0.8)(18.12,1.1)(18.15,0.7)(18.18,1.0)(18.21,0.6)(18.24,0.9)(18.27,1.2)(18.30,0.8)(18.33,1.0)(18.36,0.6)(18.39,0.9)(18.42,1.2)(18.45,0.7)(18.48,1.0)(18.51,0.8)(18.54,1.1)(18.57,0.7)(18.60,0.9)(18.63,0.6)(18.66,1.0)(18.69,0.8)(18.72,1.1)(18.75,0.7)(18.78,0.9)(18.81,0.6)(18.84,0.9)(18.87,0.8)(18.90,1.0)(18.92,1.6)(18.94,3.8)(18.965,5.9)(18.99,3.9)(19.01,1.8)(19.03,1.0)(19.05,0.7)(19.08,0.9)(19.11,0.6)(19.14,0.9)(19.17,1.1)(19.20,0.7)(19.23,0.9)(19.26,0.6)(19.29,1.0)(19.32,0.8)(19.35,1.1)(19.38,0.7)(19.41,0.9)(19.44,0.6)(19.47,1.0)(19.50,0.8)(19.53,1.2)(19.56,0.7)(19.59,1.0)(19.62,0.8)(19.65,1.1)(19.68,0.6)(19.71,0.9)(19.74,0.7)(19.77,1.0)(19.80,0.8)(19.83,1.2)(19.86,0.7)(19.89,1.0)(19.92,0.6)(19.95,0.9)(19.98,0.7)(20.01,1.1)(20.04,0.8)(20.07,1.0)(20.10,0.6)(20.13,0.9)(20.16,0.7)(20.19,1.1)(20.22,0.8)(20.25,1.0)(20.28,0.6)(20.31,0.9)(20.34,0.7)(20.37,1.0)(20.40,0.6)(20.43,0.9)(20.46,0.7)(20.49,1.0)(20.52,0.6)(20.55,0.9)(20.58,0.7)(20.61,1.0)(20.64,0.8)(20.67,0.9)(20.70,0.7)};
\node[pk] at (axis cs:18.97,6.2) {* 18.97};
\phead{+EI MRM CID@** (209.3 -> 139.0) C1.D}{-2}
\end{axis}
\begin{axis}[qtp={1598}{85}, ymin=-0.053, ymax=1.446, ytick={0,0.2,0.4,0.6,0.8,1}, xtick={9.5,10,...,20.51}]
\segsQTP
\addplot[fl] coordinates {(18.90,0.19)(18.92,0.30)(18.94,0.70)(18.965,1.06)(18.99,0.65)(19.01,0.32)(19.03,0.20)} -- cycle;
\addplot[tr] coordinates {(18.03,0.15)(18.06,0.22)(18.09,0.18)(18.12,0.24)(18.15,0.21)(18.18,0.27)(18.21,0.22)(18.24,0.26)(18.27,0.20)(18.30,0.23)(18.33,0.18)(18.36,0.21)(18.39,0.17)(18.42,0.20)(18.45,0.16)(18.48,0.19)(18.51,0.15)(18.54,0.18)(18.57,0.16)(18.60,0.19)(18.63,0.15)(18.66,0.18)(18.69,0.16)(18.72,0.19)(18.75,0.15)(18.78,0.18)(18.81,0.16)(18.84,0.20)(18.87,0.17)(18.90,0.19)(18.92,0.30)(18.94,0.70)(18.965,1.06)(18.99,0.65)(19.01,0.32)(19.03,0.20)(19.05,0.16)(19.08,0.19)(19.11,0.15)(19.14,0.18)(19.17,0.21)(19.20,0.16)(19.23,0.19)(19.26,0.15)(19.29,0.18)(19.32,0.21)(19.35,0.16)(19.38,0.19)(19.41,0.22)(19.44,0.17)(19.47,0.20)(19.50,0.16)(19.53,0.19)(19.56,0.15)(19.59,0.18)(19.62,0.21)(19.65,0.17)(19.68,0.20)(19.71,0.16)(19.74,0.19)(19.77,0.22)(19.80,0.17)(19.83,0.20)(19.86,0.16)(19.89,0.19)(19.92,0.15)(19.95,0.18)(19.98,0.21)(20.01,0.17)(20.04,0.20)(20.07,0.16)(20.10,0.19)(20.13,0.15)(20.16,0.18)(20.19,0.21)(20.22,0.17)(20.25,0.19)(20.28,0.15)(20.31,0.18)(20.34,0.16)(20.37,0.19)(20.40,0.15)(20.43,0.18)(20.46,0.14)(20.49,0.17)(20.52,0.15)(20.55,0.18)(20.58,0.16)(20.61,0.19)(20.64,0.17)(20.67,0.20)(20.70,0.18)};
\node[pk] at (axis cs:18.97,1.15) {* 18.97};
\phead{+EI MRM CID@** (209.3 -> 183.0) C1.D}{-1}
\end{axis}

% frames and separators
\fill[black] (10,-11) rectangle (613,-13);
\fill[black] (10,-11) rectangle (12.5,-1703);
\fill[black] (10,-258.8) rectangle (613,-262.2);
\fill[black] (10,-514.8) rectangle (613,-518.2);
\fill[black] (10,-785.5) rectangle (613,-788.5);
\fill[black] (10,-1060) rectangle (613,-1064);
\fill[black] (10,-1356.5) rectangle (613,-1360.5);

% highlight boxes
\draw[line width=0.7, rounded corners=3] (173.5,-22) rectangle (194,-250);
\draw[line width=0.7, rounded corners=3] (193,-272.5) rectangle (225.5,-507);
\draw[line width=0.7, rounded corners=3] (182,-530) rectangle (207.5,-772);
\draw[line width=0.7, rounded corners=3] (275.5,-818) rectangle (307,-1048);
\draw[line width=0.7, rounded corners=3] (309.5,-1083) rectangle (331.5,-1346);
\draw[line width=0.7, rounded corners=3] (518.5,-1380.5) rectangle (545,-1680);

% sample labels
\node[big] at (321,-60) {CPZ (Blank)};
\node[big] at (321,-117) {CPZ (Blank)};
\node[big] at (321,-177) {CPZ (LLOQ)};
\node[big] at (321,-220) {CPZ (LLOQ)};
\node[big] at (109.5,-302.7) {LVP (Blank)};
\node[big] at (109.5,-364) {LVP (Blank)};
\node[big] at (109.5,-420.7) {LVP (LLOQ)};
\node[big] at (109.5,-479.3) {LVP (LLOQ)};
\node[big] at (103,-560) {CYA (Blank)};
\node[big] at (103,-625.7) {CYA (Blank)};
\node[big] at (103,-681.7) {CYA (LLOQ)};
\node[big] at (103,-746.7) {CYA (LLOQ)};
\node[big] at (196,-834) {CLZ (Blank)};
\node[big] at (196,-899.3) {CLZ (Blank)};
\node[big] at (196,-956) {CLZ (LLOQ)};
\node[big] at (196,-1021.7) {CLZ (LLOQ)};
\node[big] at (159.7,-1111) {HAL (Blank)};
\node[big] at (159.7,-1179) {HAL (Blank)};
\node[big] at (159.7,-1243) {HAL (LLOQ)};
\node[big] at (159.7,-1310) {HAL (LLOQ)};
\node[big] at (417,-1410) {QTP (Blank)};
\node[big] at (417,-1484) {QTP (Blank)};
\node[big] at (417,-1557) {QTP (LLOQ)};
\node[big] at (417,-1650) {QTP (LLOQ)};

\node[font=\fontsize{5.5}{5.5}\selectfont] at (435,-1698) {Counts (\%) vs. Acquisition Time (min)};
\end{tikzpicture}
\end{document}
